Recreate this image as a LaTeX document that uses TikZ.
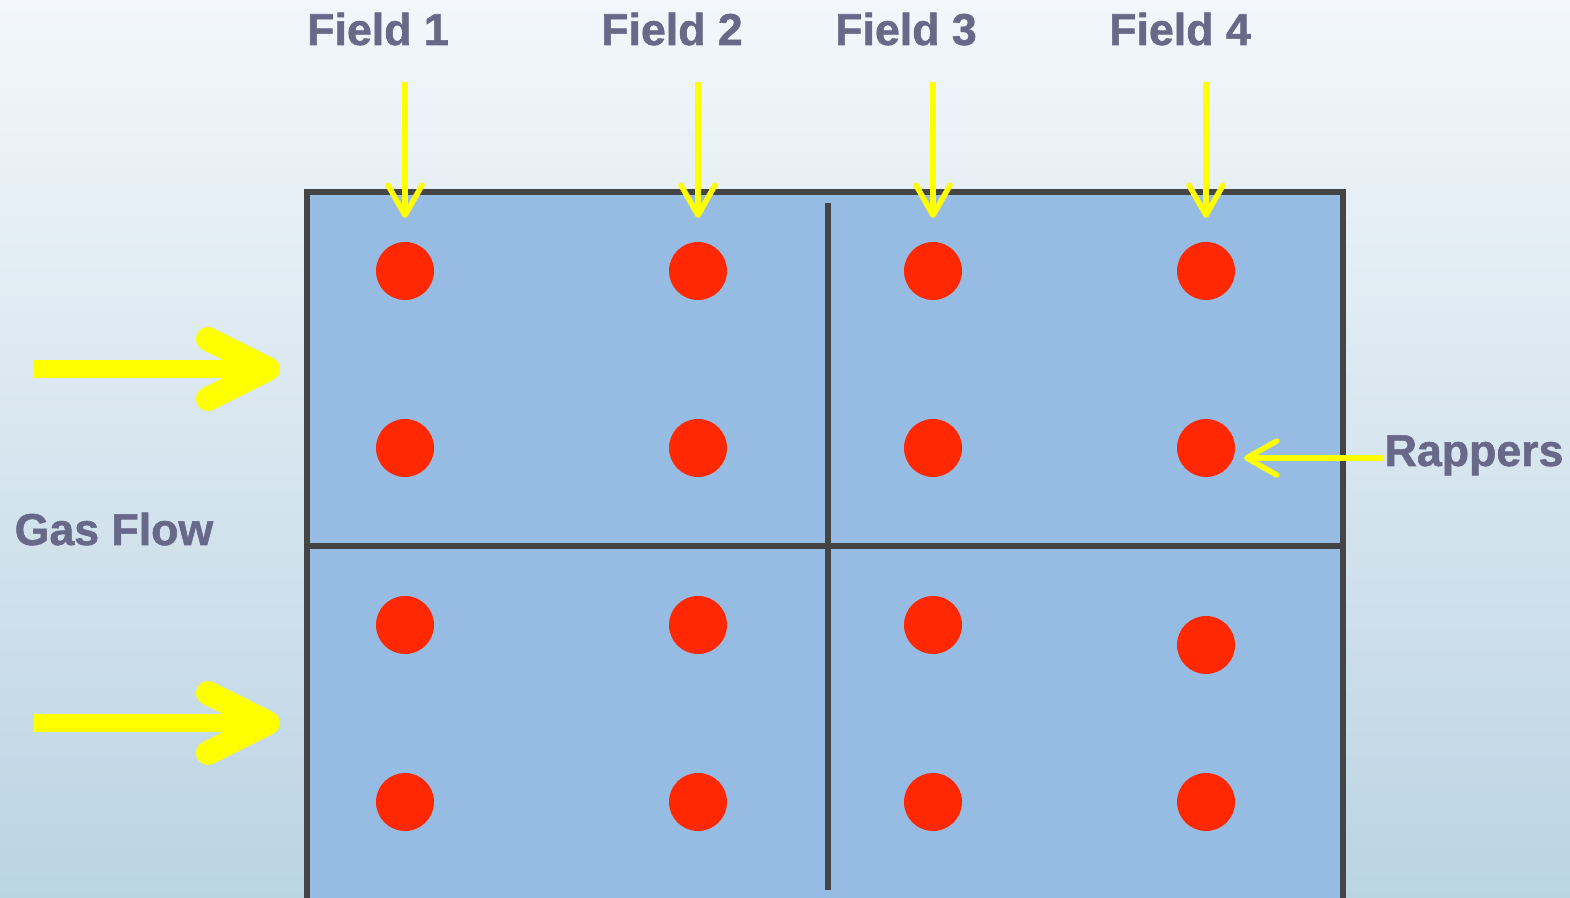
\documentclass[tikz,border=0pt]{standalone}
\usepackage{fontspec}
\setmainfont{Liberation Sans}
\newfontfamily\lblfont[BoldFeatures={FakeBold=1.2}]{Liberation Sans}
\usetikzlibrary{arrows.meta}

\definecolor{bgtop}{HTML}{F3F7FB}
\definecolor{bgbot}{HTML}{BBD4E3}
\definecolor{boxblue}{HTML}{96BCE4}
\definecolor{edgegray}{HTML}{444444}
\definecolor{dotred}{HTML}{FF2800}
\definecolor{labelgray}{HTML}{686888}
\definecolor{flowyellow}{HTML}{FFFF00}

\tikzset{
  lbl/.style={font=\lblfont\bfseries\fontsize{12.7}{15}\selectfont, text=labelgray, inner sep=0pt},
  rapper/.style={circle, fill=dotred, minimum size=0.58cm, inner sep=0pt},
  feed/.style={flowyellow, line width=0.055cm, -{Straight Barb[length=0.3cm,width=0.34cm,round]}},
  gasarrow/.style={flowyellow, line width=0.18cm, -{Straight Barb[length=0.6cm,width=0.6cm,line width=0.24cm,round]}},
  wall/.style={edgegray, line width=0.055cm}
}

\begin{document}
\begin{tikzpicture}[x=0.01cm,y=-0.01cm]
\useasboundingbox (0,0) rectangle (1570,898);
\clip (0,0) rectangle (1570,898);

% Background
\shade[top color=bgtop, bottom color=bgbot] (0,0) rectangle (1570,898);

% Precipitator casing and field walls
\filldraw[wall, fill=boxblue] (307,192) rectangle (1343,930);
\draw[wall] (307,546) -- (1343,546);
\draw[wall] (828,203) -- (828,890);

% Field labels
\node[lbl, anchor=base] (f1) at (378,45) {Field 1};
\node[lbl, anchor=base] (f2) at (672,45) {Field 2};
\node[lbl, anchor=base] (f3) at (906,45) {Field 3};
\node[lbl, anchor=base] (f4) at (1180,45) {Field 4};

% Rappers (row, column)
\node[rapper] (d11) at (405,271) {};
\node[rapper] (d12) at (698,271) {};
\node[rapper] (d13) at (933,271) {};
\node[rapper] (d14) at (1206,271) {};
\node[rapper] (d21) at (405,448) {};
\node[rapper] (d22) at (698,448) {};
\node[rapper] (d23) at (933,448) {};
\node[rapper] (d24) at (1206,448) {};
\node[rapper] (d31) at (405,625) {};
\node[rapper] (d32) at (698,625) {};
\node[rapper] (d33) at (933,625) {};
\node[rapper] (d34) at (1206,645) {};
\node[rapper] (d41) at (405,802) {};
\node[rapper] (d42) at (698,802) {};
\node[rapper] (d43) at (933,802) {};
\node[rapper] (d44) at (1206,802) {};

% Field arrows
\coordinate (s1) at (405,82);  \coordinate (t1) at (405,218);
\coordinate (s2) at (698,82);  \coordinate (t2) at (698,218);
\coordinate (s3) at (933,82);  \coordinate (t3) at (933,218);
\coordinate (s4) at (1206,82); \coordinate (t4) at (1206,218);
\draw[feed] (s1) -- (t1);
\draw[feed] (s2) -- (t2);
\draw[feed] (s3) -- (t3);
\draw[feed] (s4) -- (t4);

% Rappers label
\node[lbl, anchor=base west] (rap) at (1384,466) {Rappers};
\coordinate (rt) at (1244,458);
\draw[feed] (rap.west |- rt) -- (rt);

% Gas flow
\node[lbl, anchor=base west] (gas) at (14,545) {Gas Flow};
\coordinate (g1s) at (34,369);  \coordinate (g1t) at (280,369);
\coordinate (g2s) at (34,723);  \coordinate (g2t) at (280,723);
\draw[gasarrow] (g1s) -- (g1t);
\draw[gasarrow] (g2s) -- (g2t);
\end{tikzpicture}
\end{document}
